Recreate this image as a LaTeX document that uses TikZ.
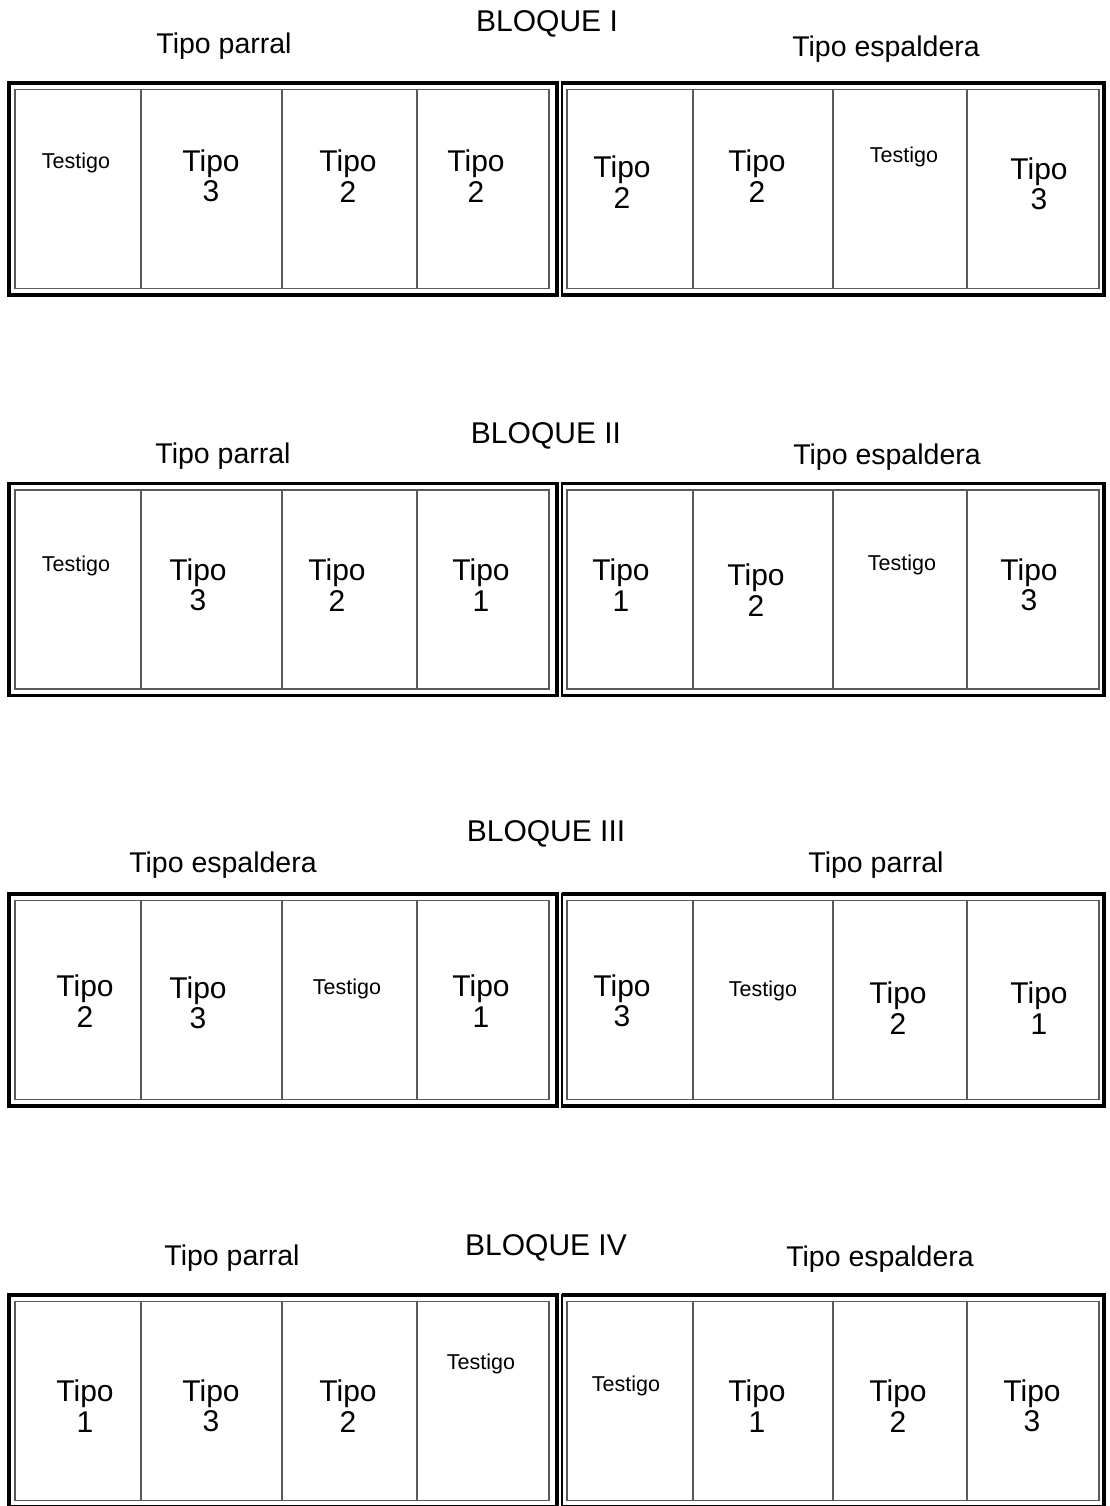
\documentclass[tikz,border=0pt]{standalone}
\usepackage{fontspec}
\setmainfont{Liberation Sans}
\definecolor{plotgray}{RGB}{90,90,90}
\usetikzlibrary{positioning}

\begin{document}
\begin{tikzpicture}[x=1pt,y=-1pt,
  frame/.style={black,line width=3.4pt},
  innerline/.style={plotgray,line width=1.2pt},
  bloque/.style={font=\fontsize{30}{34}\selectfont,inner sep=0pt},
  head/.style={font=\fontsize{28.5}{32}\selectfont,inner sep=0pt},
  tipo/.style={font=\fontsize{30}{30.5}\selectfont,align=center,inner sep=0pt},
  testigo/.style={font=\fontsize{21.5}{25}\selectfont,inner sep=0pt}]
  \useasboundingbox (0,0) rectangle (1109,1506);
  % frames of the four blocks
  \foreach \t in {83,483.5,894,1295} {
    \draw[frame] (9,\t) rectangle (557,\t+212);
    \draw[innerline] (15,\t+6.5) rectangle (549,\t+205.5);
    \draw[frame] (562,\t) -- (1104,\t) -- (1104,\t+212) -- (562,\t+212);
    \draw[black,line width=1.2pt] (562,\t-1.5) -- (562,\t+213.5);
    \draw[innerline] (567,\t+6.5) rectangle (1099,\t+205.5);
    \foreach \x in {141,282,417,693,833,967}
      \draw[innerline] (\x,\t+6.5) -- (\x,\t+205.5);
  }
  % BLOQUE I
  \node[bloque] (b1) at (547,24) {BLOQUE I};
  \node[head] (b1l) at (224,46) {Tipo parral};
  \node[head] (b1r) at (886,49) {Tipo espaldera};
  \node[testigo] (b1c1) at (76,163) {Testigo}; \node[tipo] (b1c2) at (211,176) {Tipo\\3};
  \node[tipo] (b1c3) at (348,176) {Tipo\\2}; \node[tipo] (b1c4) at (476,176) {Tipo\\2};
  \node[tipo] (b1c5) at (622,182) {Tipo\\2}; \node[tipo] (b1c6) at (757,176) {Tipo\\2};
  \node[testigo] (b1c7) at (904,157) {Testigo}; \node[tipo] (b1c8) at (1039,184) {Tipo\\3};
  % BLOQUE II
  \node[bloque] (b2) at (546,436) {BLOQUE II};
  \node[head] (b2l) at (223,456) {Tipo parral};
  \node[head] (b2r) at (887,457) {Tipo espaldera};
  \node[testigo] (b2c1) at (76,566) {Testigo}; \node[tipo] (b2c2) at (198,585) {Tipo\\3};
  \node[tipo] (b2c3) at (337,585) {Tipo\\2}; \node[tipo] (b2c4) at (481,585) {Tipo\\1};
  \node[tipo] (b2c5) at (621,585) {Tipo\\1}; \node[tipo] (b2c6) at (756,590) {Tipo\\2};
  \node[testigo] (b2c7) at (902,565) {Testigo}; \node[tipo] (b2c8) at (1029,585) {Tipo\\3};
  % BLOQUE III
  \node[bloque] (b3) at (546,834) {BLOQUE III};
  \node[head] (b3l) at (223,865) {Tipo espaldera};
  \node[head] (b3r) at (876,865) {Tipo parral};
  \node[tipo] (b3c1) at (85,1001) {Tipo\\2}; \node[tipo] (b3c2) at (198,1003) {Tipo\\3};
  \node[testigo] (b3c3) at (347,989) {Testigo}; \node[tipo] (b3c4) at (481,1001) {Tipo\\1};
  \node[tipo] (b3c5) at (622,1001) {Tipo\\3}; \node[testigo] (b3c6) at (763,991) {Testigo};
  \node[tipo] (b3c7) at (898,1008) {Tipo\\2}; \node[tipo] (b3c8) at (1039,1008) {Tipo\\1};
  % BLOQUE IV
  \node[bloque] (b4) at (546,1248) {BLOQUE IV};
  \node[head] (b4l) at (232,1258) {Tipo parral};
  \node[head] (b4r) at (880,1259) {Tipo espaldera};
  \node[tipo] (b4c1) at (85,1406) {Tipo\\1}; \node[tipo] (b4c2) at (211,1406) {Tipo\\3};
  \node[tipo] (b4c3) at (348,1406) {Tipo\\2}; \node[testigo] (b4c4) at (481,1364) {Testigo};
  \node[testigo] (b4c5) at (626,1386) {Testigo}; \node[tipo] (b4c6) at (757,1406) {Tipo\\1};
  \node[tipo] (b4c7) at (898,1406) {Tipo\\2}; \node[tipo] (b4c8) at (1032,1406) {Tipo\\3};
\end{tikzpicture}
\end{document}
